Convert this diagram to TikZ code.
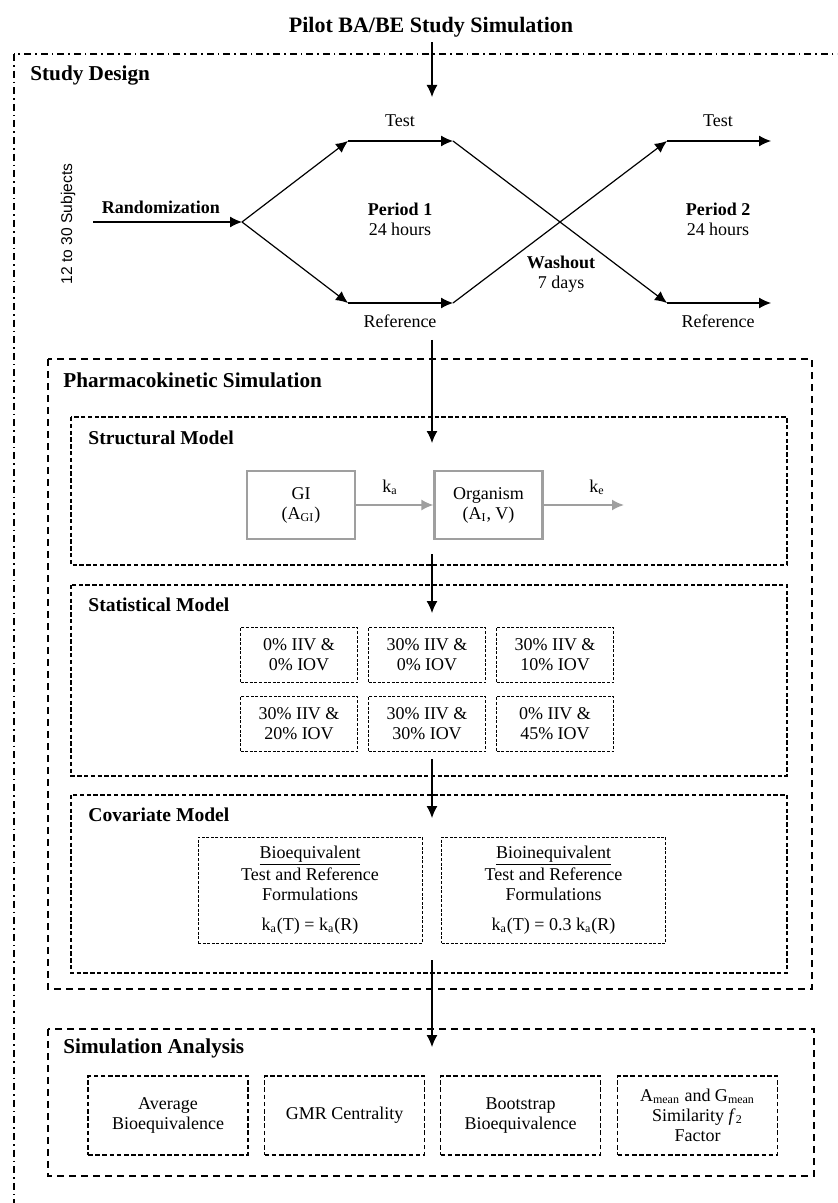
\documentclass[tikz,border=0pt]{standalone}
\usepackage{fontspec}
\setmainfont{Liberation Serif}
\newfontfamily\subjfont{Liberation Sans}
\usetikzlibrary{arrows.meta}

\tikzset{
  body/.style={font=\fontsize{9}{10}\selectfont, align=center, inner sep=0pt},
  head/.style={font=\fontsize{10.6}{12}\selectfont\bfseries, anchor=west, inner sep=0pt},
  subhead/.style={font=\fontsize{9.8}{12}\selectfont\bfseries, anchor=west, inner sep=0pt},
  flow/.style={->, line width=0.6pt},
  outerbox/.style={line width=1pt, dash pattern=on 3.5pt off 2pt on 0.8pt off 2pt},
  bigbox/.style={line width=1pt, dash pattern=on 3.5pt off 2.5pt},
  midbox/.style={line width=0.8pt, dash pattern=on 2.2pt off 1.2pt},
  smallbox/.style={draw, body, line width=0.45pt, dash pattern=on 1.5pt off 0.8pt,
    minimum width=58.5pt, minimum height=27.5pt},
  covbox/.style={draw, body, line width=0.45pt, dash pattern=on 1.5pt off 0.8pt,
    minimum width=112pt, minimum height=53pt},
  compbox/.style={draw=gray!75, body, line width=1.1pt, minimum width=54pt, minimum height=34pt},
  rate/.style={->, draw=gray!75, line width=0.9pt},
  anbox/.style={draw, body, line width=0.85pt, dash pattern=on 2.3pt off 1.3pt,
    minimum width=80pt, minimum height=39.5pt}
}

\begin{document}
\begin{tikzpicture}[x=0.5pt,y=-0.5pt,>={Latex[length=6pt,width=5.5pt]}]
\useasboundingbox (0,0) rectangle (837,1203);
\clip (0,0) rectangle (837,1203);

% frames
\draw[outerbox] (14,54) rectangle (870,1240);
\draw[bigbox] (48,359) rectangle (812,989);
\draw[midbox] (71,417) rectangle (787,565);
\draw[midbox] (71,585) rectangle (787,776);
\draw[midbox] (71,795) rectangle (787,973);
\draw[bigbox] (48,1029) rectangle (814,1176);

% headings
\node[font=\fontsize{11}{13}\selectfont\bfseries, inner sep=0pt] (title) at (431,27) {Pilot BA/BE Study Simulation};
\node[head] (hsd) at (30,75) {Study Design};
\node[head] (hpk) at (63,380) {Pharmacokinetic Simulation};
\node[subhead] (hst) at (88,438) {Structural Model};
\node[subhead] (hsm) at (88,605) {Statistical Model};
\node[subhead] (hcm) at (88,815) {Covariate Model};
\node[head] (hsa) at (63,1048) {Simulation Analysis};

% study design
\coordinate (sd) at (432,97);
\draw[flow] (title.south -| sd) ++(0,5) -- (sd);
\node[rotate=90, inner sep=0pt, font=\subjfont\fontsize{7.8}{9}\selectfont] (subj) at (68,224) {12 to 30 Subjects};
\coordinate (rand) at (93,222);
\coordinate (split) at (242,222);
\coordinate (t1a) at (348,141);
\coordinate (t1b) at (453,141);
\coordinate (r1a) at (348,303);
\coordinate (r1b) at (453,303);
\coordinate (t2a) at (667,141);
\coordinate (t2b) at (771,141);
\coordinate (r2a) at (667,303);
\coordinate (r2b) at (771,303);
\draw[flow] (rand) -- (split);
\draw[flow] (split) -- (t1a);
\draw[flow] (split) -- (r1a);
\draw[flow] (t1a) -- (t1b);
\draw[flow] (r1a) -- (r1b);
\draw[flow] (t1b) -- (r2a);
\draw[flow] (r1b) -- (t2a);
\draw[flow] (t2a) -- (t2b);
\draw[flow] (r2a) -- (r2b);
\node[body, font=\fontsize{9}{10}\selectfont\bfseries] (randlbl) at (161,207) {Randomization};
\node[body] (test1) at (400,121) {Test};
\node[body] (ref1) at (400,321) {Reference};
\node[body] (test2) at (718,121) {Test};
\node[body] (ref2) at (718,321) {Reference};
\node[body] (per1) at (400,219) {\textbf{Period 1}\\24 hours};
\node[body] (per2) at (718,219) {\textbf{Period 2}\\24 hours};
\node[body] (wash) at (561,274) {\textbf{Washout}\\7 days};

% flow down the models
\coordinate (v1s) at (432,340);
\coordinate (v1e) at (432,443);
\coordinate (v2s) at (432,554);
\coordinate (v2e) at (432,613);
\coordinate (v3s) at (432,759);
\coordinate (v3e) at (432,818);
\coordinate (v4s) at (432,960);
\coordinate (v4e) at (432,1047);
\draw[flow] (v1s) -- (v1e);
\draw[flow] (v2s) -- (v2e);
\draw[flow] (v3s) -- (v3e);
\draw[flow] (v4s) -- (v4e);

% structural model
\node[compbox] (gi) at (301,505) {GI\\(A\textsubscript{GI})};
\node[compbox] (org) at (488.5,505) {Organism\\(A\textsubscript{I}, V)};
\coordinate (elim) at (624,505);
\draw[rate] (gi) -- (org);
\draw[rate] (org) -- (elim);
\node[body] (ka) at (390,487) {k\textsubscript{a}};
\node[body] (ke) at (597,487) {k\textsubscript{e}};

% statistical model
\foreach \nm/\cx/\cy/\txt in {
  s1/299/655/{0\% IIV \&\\0\% IOV},
  s2/427/655/{30\% IIV \&\\0\% IOV},
  s3/555/655/{30\% IIV \&\\10\% IOV},
  s4/299/724/{30\% IIV \&\\20\% IOV},
  s5/427/724/{30\% IIV \&\\30\% IOV},
  s6/555/724/{0\% IIV \&\\45\% IOV}}
  \node[smallbox] (\nm) at (\cx,\cy) {\txt};

% covariate model
\node[covbox] (beq) at (310,890) {\underline{Bioequivalent}\\Test and Reference\\Formulations\\[5pt]k\textsubscript{a}(T) = k\textsubscript{a}(R)};
\node[covbox] (bineq) at (553.5,890) {\underline{Bioinequivalent}\\Test and Reference\\Formulations\\[5pt]k\textsubscript{a}(T) = 0.3 k\textsubscript{a}(R)};

% simulation analysis
\foreach \nm/\cx/\txt in {
  a1/168/{Average\\Bioequivalence},
  a2/344.5/{GMR Centrality},
  a3/520.5/{Bootstrap\\Bioequivalence},
  a4/697.5/{A\textsubscript{mean} and G\textsubscript{mean}\\Similarity \textit{f}\textsubscript{2}\\Factor}}
  \node[anbox] (\nm) at (\cx,1115.5) {\txt};
\end{tikzpicture}
\end{document}
